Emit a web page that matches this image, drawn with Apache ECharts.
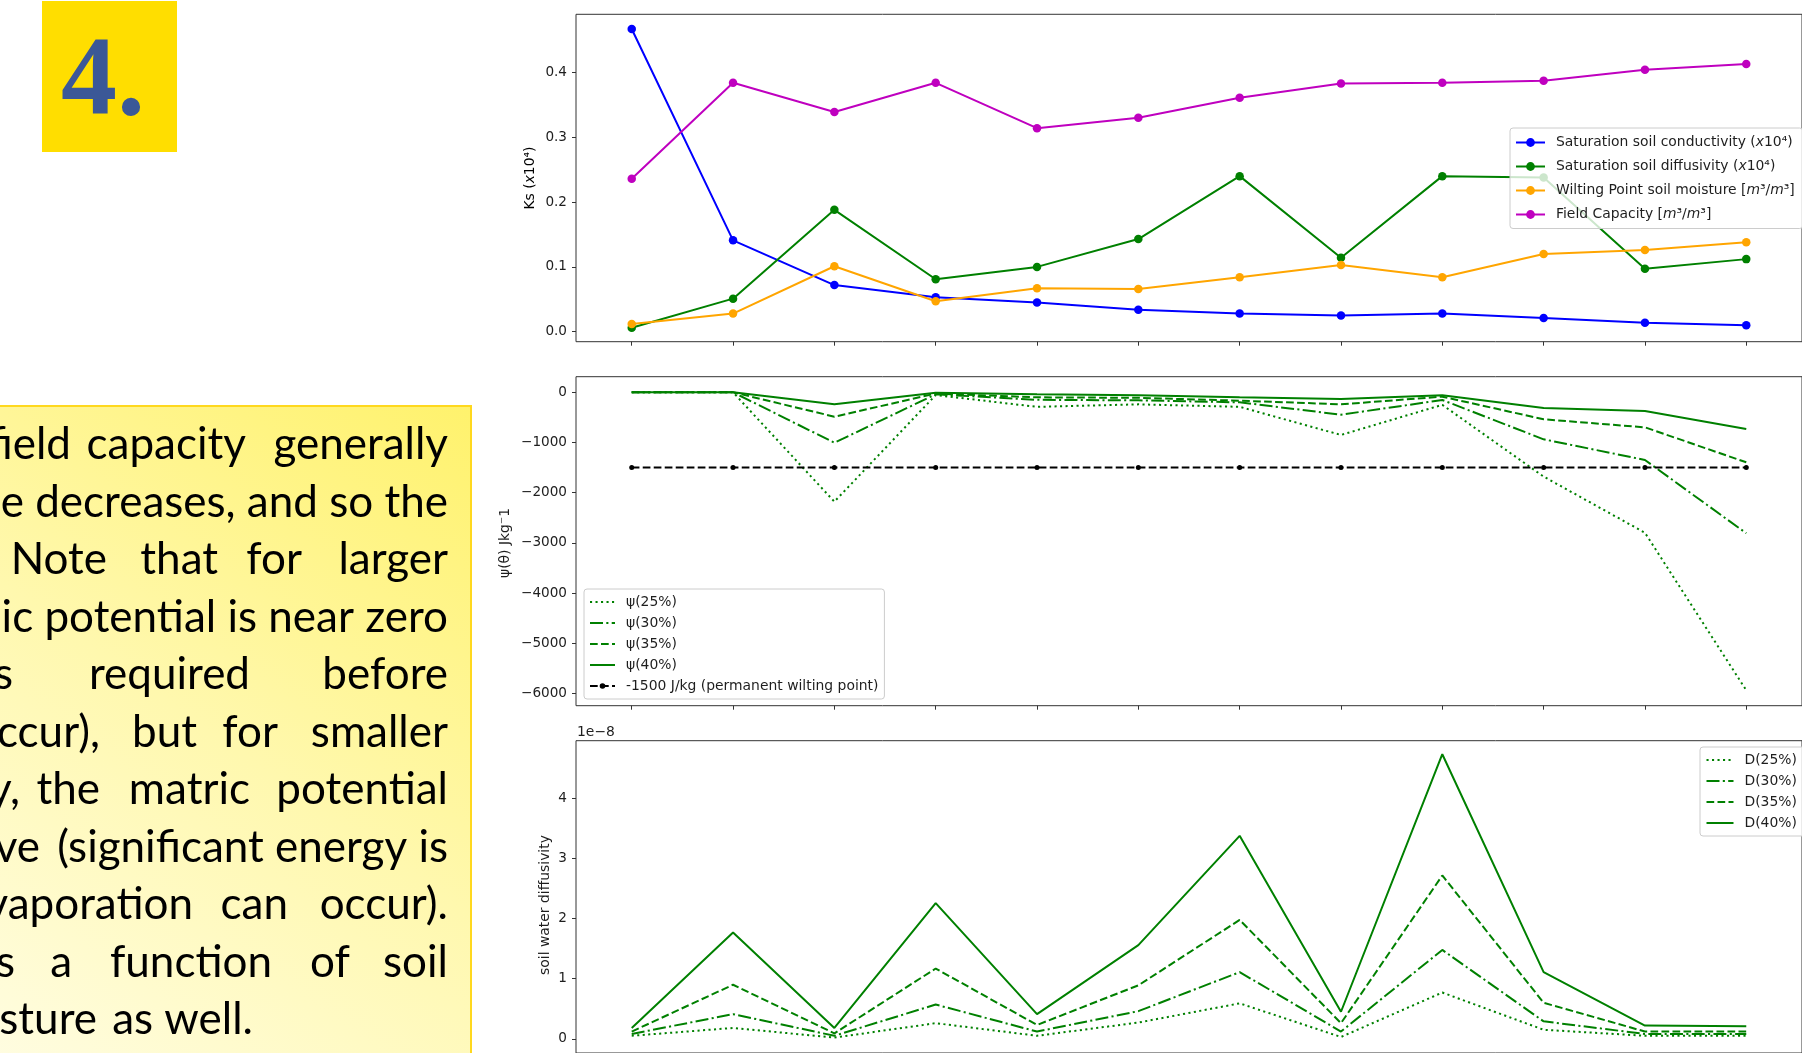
<!DOCTYPE html>
<html><head><meta charset="utf-8">
<script src="https://cdn.jsdelivr.net/npm/echarts@6/dist/echarts.min.js"></script>
<style>html,body{margin:0;padding:0;background:#fff;overflow:hidden}#c{width:1802px;height:1053px}</style>
</head><body><div id="c"></div>
<script>
// ---------- DATA ----------
const soilIndex = [0, 1, 2, 3, 4, 5, 6, 7, 8, 9, 10, 11];

// top panel
const ksatCond = [0.467, 0.141, 0.072, 0.053, 0.045, 0.034, 0.028, 0.025, 0.028, 0.021, 0.014, 0.010];
const ksatDiff = [0.006, 0.051, 0.188, 0.081, 0.100, 0.143, 0.240, 0.114, 0.240, 0.238, 0.097, 0.112];
const wiltPoint = [0.012, 0.028, 0.101, 0.047, 0.067, 0.066, 0.084, 0.103, 0.084, 0.120, 0.126, 0.138];
const fieldCap = [0.236, 0.384, 0.339, 0.384, 0.314, 0.330, 0.361, 0.383, 0.384, 0.387, 0.404, 0.413];

// middle panel (J/kg)
const psi25 = [0, 0, -2180, -55, -290, -240, -290, -850, -250, -1680, -2800, -5940];
const psi30 = [0, 0, -1005, -40, -150, -160, -200, -446, -153, -937, -1349, -2810];
const psi35 = [0, 0, -486, -25, -100, -110, -167, -239, -87, -538, -698, -1395];
const psi40 = [0, 0, -239, -10, -40, -60, -100, -133, -60, -313, -372, -731];
const pwp = [-1500, -1500, -1500, -1500, -1500, -1500, -1500, -1500, -1500, -1500, -1500, -1500];

// bottom panel (x 1e-8)
const d25 = [0.05, 0.18, 0.02, 0.26, 0.05, 0.27, 0.59, 0.03, 0.77, 0.15, 0.05, 0.05];
const d30 = [0.08, 0.41, 0.05, 0.57, 0.12, 0.46, 1.11, 0.12, 1.48, 0.29, 0.08, 0.08];
const d35 = [0.12, 0.90, 0.09, 1.17, 0.23, 0.89, 1.98, 0.26, 2.72, 0.60, 0.12, 0.12];
const d40 = [0.18, 1.77, 0.18, 2.26, 0.41, 1.56, 3.38, 0.45, 4.74, 1.11, 0.22, 0.21];

// tick labels
const ksTicks = [0, 0.1, 0.2, 0.3, 0.4];
const psiTicks = [-6000, -5000, -4000, -3000, -2000, -1000, 0];
const diffTicks = [0, 1, 2, 3, 4];

// names
const topNames = ['Saturation soil conductivity (x10⁴)', 'Saturation soil diffusivity (x10⁴)',
  'Wilting Point soil moisture [m³/m³]', 'Field Capacity [m³/m³]'];
const midNames = ['ψ(25%)', 'ψ(30%)', 'ψ(35%)', 'ψ(40%)', '-1500 J/kg (permanent wilting point)'];
const botNames = ['D(25%)', 'D(30%)', 'D(35%)', 'D(40%)'];

// paragraph text (visible right-hand portion of a cropped slide box)
const paraLines = [
  [['field', 71], ['capacity', 246], ['generally', 448]],
  [['e decreases, and so the', 448]],
  [['Note', 107], ['that', 218], ['for', 302], ['larger', 448]],
  [['ic potential is near zero', 448]],
  [['s', 13], ['required', 250], ['before', 448]],
  [['ccur),', 100], ['but', 197], ['for', 278], ['smaller', 448]],
  [['y,', 20], ['the', 100], ['matric', 250], ['potential', 448]],
  [['ve', 40], ['(significant energy is', 448]],
  [['vaporation', 193], ['can', 288], ['occur).', 448]],
  [['s', 15], ['a', 72], ['function', 272], ['of', 350], ['soil', 448]],
  [['sture', 97], ['as well.', 253]]
];

// ---------- BUILD ----------
const FONT = 'DejaVu Sans';
const TXT = '#1e1e1e';
const pairs = arr => arr.map((v, i) => [soilIndex[i], v]);
const minus = v => (v < 0 ? '\u2212' + Math.abs(v) : String(v));

const green = '#008000';
const DOT = [2.1, 3.4], DASHDOT = [13, 3.3, 2.1, 3.3], DASH = [7.7, 3.3];

function xAx(g) {
  return {
    type: 'value', gridIndex: g, min: -0.55, max: 11.55,
    axisLine: { show: false, onZero: false },
    axisTick: { show: true, length: 4, customValues: soilIndex, lineStyle: { color: '#333', width: 1 } },
    axisLabel: { show: false, customValues: soilIndex },
    splitLine: { show: false }
  };
}
function yAx(g, min, max, ticks, fmt) {
  return {
    type: 'value', gridIndex: g, min: min, max: max,
    axisLine: { show: false, onZero: false },
    axisTick: { show: true, length: 4, customValues: ticks, lineStyle: { color: '#333', width: 1 } },
    axisLabel: { customValues: ticks, formatter: fmt, fontFamily: FONT, fontSize: 13.6, color: TXT, margin: 9 },
    splitLine: { show: false }
  };
}
function lineSer(name, data, g, color, type, sym, symSize) {
  return {
    name: name, type: 'line', xAxisIndex: g, yAxisIndex: g, data: pairs(data),
    symbol: sym || 'none', symbolSize: symSize || 0, showSymbol: !!sym,
    lineStyle: { color: color, width: 2, type: type || 'solid' },
    itemStyle: { color: color }, animation: false, z: 2
  };
}

const rich = {
  t: { fontFamily: FONT, fontSize: 13.9, color: TXT },
  i: { fontFamily: FONT, fontSize: 13.9, color: TXT, fontStyle: 'italic' }
};
const topRich = {};
topRich[topNames[0]] = '{t|Saturation soil conductivity (}{i|x}{t|10⁴)}';
topRich[topNames[1]] = '{t|Saturation soil diffusivity (}{i|x}{t|10⁴)}';
topRich[topNames[2]] = '{t|Wilting Point soil moisture [}{i|m}{t|³/}{i|m}{t|³]}';
topRich[topNames[3]] = '{t|Field Capacity [}{i|m}{t|³/}{i|m}{t|³]}';

const legendBase = {
  orient: 'vertical', selectedMode: false,
  backgroundColor: 'rgba(255,255,255,0.8)', borderColor: '#cccccc', borderWidth: 1, borderRadius: 3,
  textStyle: { fontFamily: FONT, fontSize: 13.9, color: TXT, padding: [0, 0, 0, 6], rich: rich }
};
const noSym = n => ({ name: n, itemStyle: { opacity: 0 } });

const graphics = [];
// yellow number box
graphics.push({ type: 'rect', shape: { x: 42, y: 1, width: 135, height: 151 }, style: { fill: '#FFDE00' } });
graphics.push({ type: 'text', x: 61, y: 85, style: { text: '4.', fontFamily: 'Liberation Serif', fontWeight: 'bold', fontSize: 112, fill: '#3B5897', align: 'left', verticalAlign: 'middle' } });
// paragraph box
graphics.push({
  type: 'rect', shape: { x: -10, y: 406, width: 481, height: 680 },
  style: {
    fill: new echarts.graphic.LinearGradient(1, 0, 0, 1, [
      { offset: 0, color: '#FFF26C' }, { offset: 0.5, color: '#FFF8AE' }, { offset: 1, color: '#FFFDE4' }]),
    stroke: '#FFD81E', lineWidth: 2
  }
});
paraLines.forEach((line, k) => {
  const base = 460 + 57.5 * k;
  line.forEach(w => {
    graphics.push({ type: 'text', x: w[1], y: base - 15, style: { text: w[0], fontFamily: 'Lato', fontSize: 44, fill: '#000', align: 'right', verticalAlign: 'middle' } });
  });
});
// axis names
graphics.push({ type: 'text', x: 530, y: 178, rotation: Math.PI / 2, style: { text: '{t|Ks (}{i|x}{t|10⁴)}', rich: rich, align: 'center', verticalAlign: 'middle' } });
graphics.push({ type: 'text', x: 505, y: 543, rotation: Math.PI / 2, style: { text: 'ψ(θ) Jkg⁻1', fontFamily: FONT, fontSize: 13.9, fill: TXT, align: 'center', verticalAlign: 'middle' } });
graphics.push({ type: 'text', x: 545, y: 905, rotation: Math.PI / 2, style: { text: 'soil water diffusivity', fontFamily: FONT, fontSize: 13.9, fill: TXT, align: 'center', verticalAlign: 'middle' } });
graphics.push({ type: 'text', x: 577, y: 732, style: { text: '1e\u22128', fontFamily: FONT, fontSize: 13.9, fill: TXT, align: 'left', verticalAlign: 'middle' } });

const gridBase = { show: true, left: 576, width: 1233, borderColor: '#333', borderWidth: 1, containLabel: false };

const option = {
  animation: false,
  backgroundColor: '#ffffff',
  grid: [
    Object.assign({}, gridBase, { top: 14.3, height: 327.4 }),
    Object.assign({}, gridBase, { top: 376.7, height: 329 }),
    Object.assign({}, gridBase, { top: 740.7, height: 328.8 })
  ],
  xAxis: [xAx(0), xAx(1), xAx(2)],
  yAxis: [
    yAx(0, -0.0154, 0.4897, ksTicks, v => v.toFixed(1)),
    yAx(1, -6247, 311, psiTicks, minus),
    yAx(2, -0.237, 4.965, diffTicks, v => String(v))
  ],
  legend: [
    Object.assign({}, legendBase, {
      data: topNames, left: 1510, top: 128, padding: [7.5, 8, 7, 5], itemWidth: 29, itemHeight: 11, itemGap: 10,
      formatter: n => topRich[n]
    }),
    Object.assign({}, legendBase, {
      data: [noSym(midNames[0]), noSym(midNames[1]), noSym(midNames[2]), noSym(midNames[3]), midNames[4]],
      left: 584, top: 589, padding: [6, 6, 6, 5], itemWidth: 25, itemHeight: 7, itemGap: 7
    }),
    Object.assign({}, legendBase, {
      data: botNames.map(noSym), left: 1700, top: 747, padding: [6, 8, 6, 5.5], itemWidth: 27, itemHeight: 7, itemGap: 7
    })
  ],
  series: [
    lineSer(topNames[0], ksatCond, 0, '#0000FF', 'solid', 'circle', 8.5),
    lineSer(topNames[1], ksatDiff, 0, green, 'solid', 'circle', 8.5),
    lineSer(topNames[2], wiltPoint, 0, '#FFA500', 'solid', 'circle', 8.5),
    lineSer(topNames[3], fieldCap, 0, '#BF00BF', 'solid', 'circle', 8.5),

    lineSer(midNames[0], psi25, 1, green, DOT),
    lineSer(midNames[1], psi30, 1, green, DASHDOT),
    lineSer(midNames[2], psi35, 1, green, DASH),
    lineSer(midNames[3], psi40, 1, green, 'solid'),
    lineSer(midNames[4], pwp, 1, '#000000', DASH, 'circle', 5),

    lineSer(botNames[0], d25, 2, green, DOT),
    lineSer(botNames[1], d30, 2, green, DASHDOT),
    lineSer(botNames[2], d35, 2, green, DASH),
    lineSer(botNames[3], d40, 2, green, 'solid')
  ],
  graphic: { elements: graphics }
};

const chart = echarts.init(document.getElementById('c'), null, { renderer: 'canvas', width: 1802, height: 1053 });
chart.setOption(option);
</script>
</body></html>
